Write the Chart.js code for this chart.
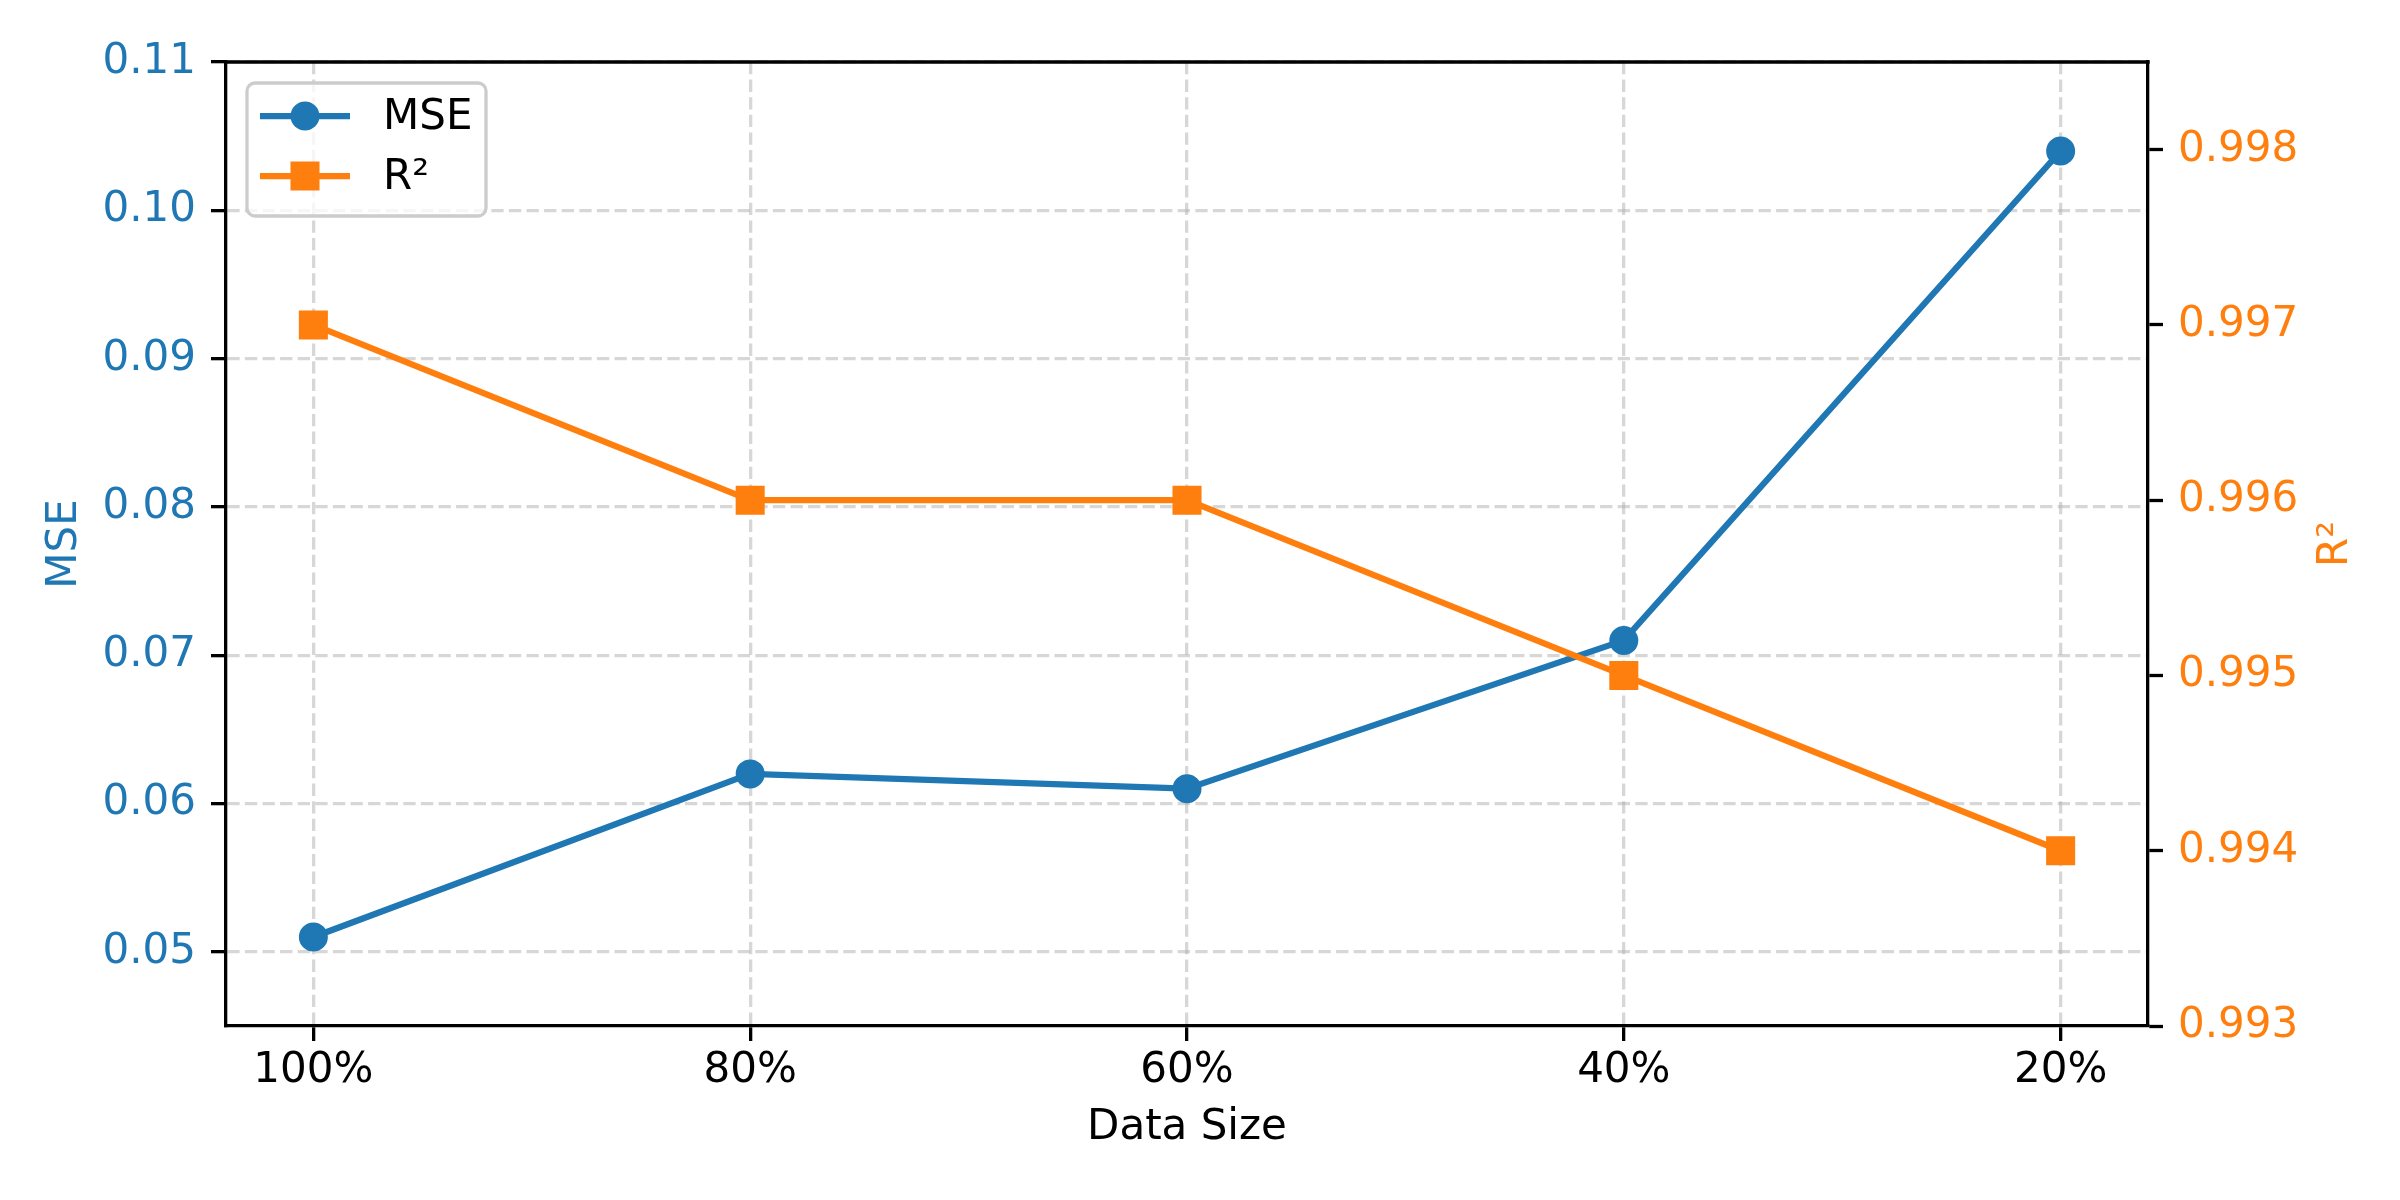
<!DOCTYPE html>
<html>
<head>
<meta charset="utf-8">
<title>MSE and R² vs Data Size</title>
<script src="https://cdn.jsdelivr.net/npm/chart.js@4.4.0/dist/chart.umd.min.js"></script>
<style>
  body { margin: 0; background: #fff; }
  canvas { display: block; }
</style>
</head>
<body>
<canvas id="chart" width="2400" height="1200"></canvas>
<script>
"use strict";

// data
const dataSizes = ["100%", "80%", "60%", "40%", "20%"];
const mseValues = [0.051, 0.062, 0.061, 0.071, 0.104];
const r2Values = [0.997, 0.996, 0.996, 0.995, 0.994];
const mseTicks = [0.05, 0.06, 0.07, 0.08, 0.09, 0.10, 0.11];
const r2Ticks = [0.993, 0.994, 0.995, 0.996, 0.997, 0.998];

const blue = "#1f77b4";
const orange = "#ff7f0e";
const fontName = "'DejaVu Sans', 'Liberation Sans', sans-serif";
const gridColor = "rgba(176,176,176,0.5)";
const gridDash = [12.3, 5.3];
const lw = 3.3;

function toPoints(values) {
  return values.map((v, i) => ({ x: i, y: v }));
}

// legend drawn inside the plot, upper left like matplotlib
const insideLegend = {
  id: "insideLegend",
  afterDraw(chart) {
    const ctx = chart.ctx;
    const area = chart.chartArea;
    const x0 = area.left + 21;
    const y0 = area.top + 21;
    ctx.save();
    ctx.beginPath();
    ctx.roundRect(x0, y0, 239, 133, 8);
    ctx.fillStyle = "rgba(255,255,255,0.8)";
    ctx.fill();
    ctx.strokeStyle = "#cccccc";
    ctx.lineWidth = 3.3;
    ctx.stroke();

    const items = [chart.data.datasets[1], chart.data.datasets[0]];
    items.forEach((ds, i) => {
      const y = y0 + 33 + i * 60;
      ctx.strokeStyle = ds.borderColor;
      ctx.lineWidth = ds.borderWidth;
      ctx.beginPath();
      ctx.moveTo(x0 + 13, y);
      ctx.lineTo(x0 + 103, y);
      ctx.stroke();
      ctx.fillStyle = ds.borderColor;
      if (ds.pointStyle === "rect") {
        ctx.fillRect(x0 + 58 - 14.5, y - 14.5, 29, 29);
      } else {
        ctx.beginPath();
        ctx.arc(x0 + 58, y, 14.5, 0, Math.PI * 2);
        ctx.fill();
      }
      ctx.fillStyle = "#000";
      ctx.font = "42px " + fontName;
      ctx.textBaseline = "middle";
      ctx.textAlign = "left";
      ctx.fillText(ds.label, x0 + 136, y + 2);
    });
    ctx.restore();
  }
};

// top spine and the right-hand axis title (reads bottom to top)
const frameExtras = {
  id: "frameExtras",
  afterDraw(chart) {
    const ctx = chart.ctx;
    const area = chart.chartArea;
    ctx.save();
    ctx.strokeStyle = "#000";
    ctx.lineWidth = lw;
    ctx.beginPath();
    ctx.moveTo(area.left - lw / 2, area.top);
    ctx.lineTo(area.right + lw / 2, area.top);
    ctx.stroke();

    ctx.translate(2347, (area.top + area.bottom) / 2);
    ctx.rotate(-Math.PI / 2);
    ctx.fillStyle = orange;
    ctx.font = "42px " + fontName;
    ctx.textAlign = "center";
    ctx.textBaseline = "alphabetic";
    ctx.fillText("R²", 0, 0);
    ctx.restore();
  }
};

const tickFont = { family: fontName, size: 42 };

new Chart(document.getElementById("chart"), {
  type: "line",
  data: {
    datasets: [
      {
        label: "R²",
        data: toPoints(r2Values),
        yAxisID: "y2",
        borderColor: orange,
        backgroundColor: orange,
        borderWidth: 6.25,
        pointStyle: "rect",
        pointRadius: 17.7,
        pointBorderWidth: 4,
        pointBackgroundColor: orange,
        pointBorderColor: orange,
        tension: 0
      },
      {
        label: "MSE",
        data: toPoints(mseValues),
        yAxisID: "y",
        borderColor: blue,
        backgroundColor: blue,
        borderWidth: 6.25,
        pointStyle: "circle",
        pointRadius: 12.5,
        pointBorderWidth: 4,
        pointBackgroundColor: blue,
        pointBorderColor: blue,
        tension: 0
      }
    ]
  },
  options: {
    responsive: false,
    animation: false,
    devicePixelRatio: 1,
    events: [],
    layout: { padding: { top: 62, left: 0, right: 0, bottom: 0 } },
    plugins: {
      legend: { display: false },
      tooltip: { enabled: false }
    },
    scales: {
      x: {
        type: "linear",
        min: -0.2,
        max: 4.2,
        afterBuildTicks: (scale) => {
          scale.ticks = dataSizes.map((_, i) => ({ value: i }));
        },
        afterFit: (scale) => { scale.height = 174; },
        ticks: {
          color: "#000",
          font: tickFont,
          padding: 5,
          callback: (value) => dataSizes[value]
        },
        grid: {
          color: gridColor,
          lineWidth: lw,
          tickLength: 15,
          tickColor: "#000",
          tickWidth: lw,
          tickBorderDash: []
        },
        border: { color: "#000", width: lw, dash: gridDash },
        title: {
          display: true,
          text: "Data Size",
          color: "#000",
          font: tickFont,
          padding: { top: 0, bottom: 47 }
        }
      },
      y: {
        position: "left",
        min: 0.045,
        max: 0.11,
        afterBuildTicks: (scale) => {
          scale.ticks = mseTicks.map((v) => ({ value: v }));
        },
        afterFit: (scale) => { scale.width = 226; },
        ticks: {
          color: blue,
          font: tickFont,
          padding: 15,
          callback: (value) => value.toFixed(2)
        },
        grid: {
          color: gridColor,
          lineWidth: lw,
          tickLength: 15,
          tickColor: "#000",
          tickWidth: lw,
          tickBorderDash: []
        },
        border: { color: "#000", width: lw, dash: gridDash },
        title: {
          display: true,
          text: "MSE",
          color: blue,
          font: tickFont,
          padding: { top: 40, bottom: 0 }
        }
      },
      y2: {
        position: "right",
        min: 0.993,
        max: 0.9985,
        afterBuildTicks: (scale) => {
          scale.ticks = r2Ticks.map((v) => ({ value: v }));
        },
        afterFit: (scale) => { scale.width = 252; },
        ticks: {
          color: orange,
          font: tickFont,
          padding: 15,
          callback: (value) => value.toFixed(3)
        },
        grid: {
          drawOnChartArea: false,
          tickLength: 15,
          tickColor: "#000",
          tickWidth: lw
        },
        border: { color: "#000", width: lw }
      }
    }
  },
  plugins: [insideLegend, frameExtras]
});
</script>
</body>
</html>
